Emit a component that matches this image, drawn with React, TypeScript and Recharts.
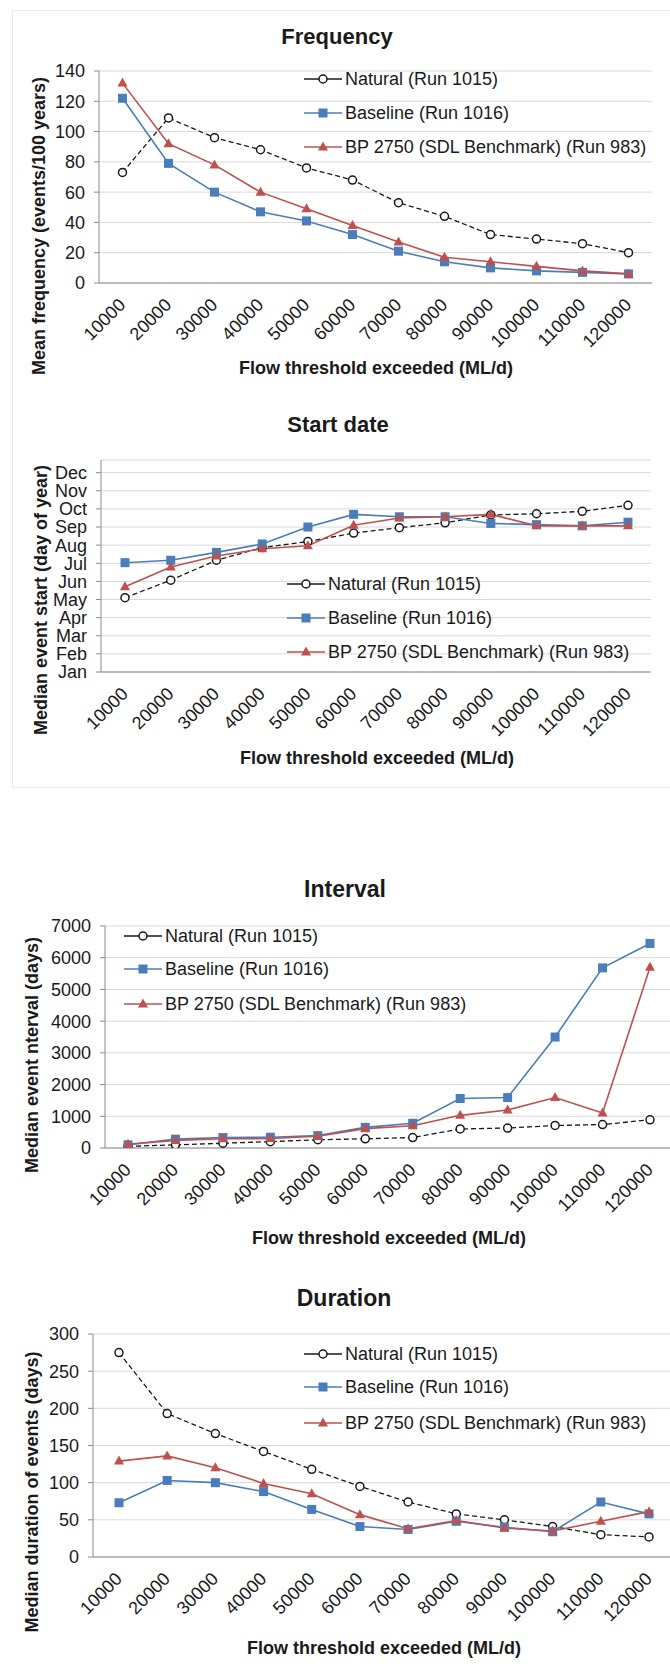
import React from "react";
import { LineChart, Line, XAxis, YAxis, CartesianGrid } from "recharts";

const FONT = '"Liberation Sans", Arial, sans-serif';
const BLACK = "#1a1a1a";
const BLUE = "#4a7ebb";
const RED = "#c0504d";
const AXIS = "#8c8c8c";
const GRID = "#d9d9d9";

const flows = ["10000", "20000", "30000", "40000", "50000", "60000", "70000", "80000", "90000", "100000", "110000", "120000"];

const seriesNames = ["Natural (Run 1015)", "Baseline (Run 1016)", "BP 2750 (SDL Benchmark) (Run 983)"];

// Frequency (events / 100 years)
const freqNatural = [73, 109, 96, 88, 76, 68, 53, 44, 32, 29, 26, 20];
const freqBaseline = [122, 79, 60, 47, 41, 32, 21, 14, 10, 8, 7, 6];
const freqBp = [132, 92, 78, 60, 49, 38, 27, 17, 14, 11, 8, 6];
const freqTicks = [0, 20, 40, 60, 80, 100, 120, 140];

// Start date (day of year)
const startNatural = [124, 153, 186, 207, 217, 231, 240, 248, 261, 263, 267, 277];
const startBaseline = [182, 186, 199, 213, 241, 262, 258, 258, 247, 245, 243, 249];
const startBp = [142, 175, 193, 205, 210, 244, 256, 258, 262, 243, 243, 243];
const monthTicks = [1, 31, 61, 91, 121, 151, 181, 211, 241, 271, 301, 331];
const monthLabels = ["Jan", "Feb", "Mar", "Apr", "May", "Jun", "Jul", "Aug", "Sep", "Oct", "Nov", "Dec"];

// Interval (days)
const intervalNatural = [50, 100, 150, 200, 260, 290, 330, 600, 630, 710, 740, 890];
const intervalBaseline = [100, 280, 330, 340, 390, 650, 780, 1560, 1590, 3500, 5680, 6450];
const intervalBp = [120, 240, 290, 300, 370, 610, 700, 1030, 1200, 1590, 1100, 5700];
const intervalTicks = [0, 1000, 2000, 3000, 4000, 5000, 6000, 7000];

// Duration (days)
const durationNatural = [275, 193, 166, 142, 118, 95, 74, 58, 50, 41, 30, 27];
const durationBaseline = [73, 103, 100, 88, 64, 41, 37, 48, 40, 34, 74, 58];
const durationBp = [129, 136, 120, 99, 85, 57, 38, 49, 39, 35, 48, 61];
const durationTicks = [0, 50, 100, 150, 200, 250, 300];

const toRows = (a: number[], b: number[], c: number[]) =>
    flows.map((flow, i) => ({ flow, natural: a[i], baseline: b[i], bp: c[i] }));

const CircleDot = (p: any) =>
    p.cx == null ? null : (
        <circle key={`n-${p.index}`} cx={p.cx} cy={p.cy} r={4} fill="#fff" stroke={BLACK} strokeWidth={1.5} />
    );
const SquareDot = (p: any) =>
    p.cx == null ? null : (
        <rect key={`b-${p.index}`} x={p.cx - 4.5} y={p.cy - 4.5} width={9} height={9} fill={BLUE} />
    );
const TriangleDot = (p: any) =>
    p.cx == null ? null : (
        <path key={`r-${p.index}`} d={`M${p.cx},${p.cy - 5.5}L${p.cx + 5},${p.cy + 3.5}L${p.cx - 5},${p.cy + 3.5}Z`} fill={RED} />
    );

const XTick = ({ x, y, payload }: any) => (
    <text
        transform={`translate(${x + 4},${y + 23}) rotate(-45)`}
        textAnchor="end"
        fontSize={18}
        fontFamily={FONT}
        fill={BLACK}
    >
        {payload.value}
    </text>
);

interface Geo {
    top: number;
    height: number;
    plotLeft: number;
    plotTop: number;
    plotBottom: number;
    right: number;
    padL: number;
    padR: number;
}

function Panel({ geo, data, domain, ticks, fmt }: { geo: Geo; data: any[]; domain: [number, number]; ticks: number[]; fmt?: (v: number) => string }) {
    const xAxisH = 60;
    return (
        <div style={{ position: "absolute", left: 0, top: geo.top }}>
            <LineChart
                width={670}
                height={geo.height}
                data={data}
                margin={{
                    top: geo.plotTop - geo.top,
                    right: geo.right,
                    left: 0,
                    bottom: geo.top + geo.height - geo.plotBottom - xAxisH,
                }}
            >
                <CartesianGrid vertical={false} stroke={GRID} />
                <XAxis
                    dataKey="flow"
                    scale="point"
                    padding={{ left: geo.padL, right: geo.padR }}
                    height={xAxisH}
                    interval={0}
                    tickLine={false}
                    tickSize={0}
                    tickMargin={0}
                    axisLine={{ stroke: AXIS }}
                    tick={(p: any) => <XTick {...p} />}
                />
                <YAxis
                    type="number"
                    width={geo.plotLeft}
                    domain={domain}
                    ticks={ticks}
                    interval={0}
                    allowDataOverflow
                    tickFormatter={fmt}
                    tickSize={5}
                    tickMargin={9}
                    axisLine={{ stroke: AXIS }}
                    tickLine={{ stroke: AXIS }}
                    tick={{ fontSize: 18, fill: BLACK, fontFamily: FONT }}
                />
                <Line dataKey="natural" stroke={BLACK} strokeWidth={1.3} strokeDasharray="5 3" dot={CircleDot} isAnimationActive={false} />
                <Line dataKey="baseline" stroke={BLUE} strokeWidth={1.6} dot={SquareDot} isAnimationActive={false} />
                <Line dataKey="bp" stroke={RED} strokeWidth={1.6} dot={TriangleDot} isAnimationActive={false} />
            </LineChart>
        </div>
    );
}

const Text = ({ x, y, size, bold, rotate, children }: any) => (
    <div
        style={{
            position: "absolute",
            left: x,
            top: y,
            transform: `translate(-50%, -50%)${rotate ? " rotate(-90deg)" : ""}`,
            fontSize: size,
            fontWeight: bold ? 700 : 400,
            whiteSpace: "nowrap",
            lineHeight: 1,
            color: BLACK,
        }}
    >
        {children}
    </div>
);

const LegendIcon = ({ kind }: { kind: number }) => (
    <svg width={38} height={20} style={{ display: "block" }}>
        {kind === 0 && (
            <>
                <line x1={0} y1={10} x2={38} y2={10} stroke={BLACK} strokeWidth={1.3} />
                <circle cx={19} cy={10} r={4} fill="#fff" stroke={BLACK} strokeWidth={1.5} />
            </>
        )}
        {kind === 1 && (
            <>
                <line x1={0} y1={10} x2={38} y2={10} stroke={BLUE} strokeWidth={1.6} />
                <rect x={14.5} y={5.5} width={9} height={9} fill={BLUE} />
            </>
        )}
        {kind === 2 && (
            <>
                <line x1={0} y1={10} x2={38} y2={10} stroke={RED} strokeWidth={1.6} />
                <path d="M19,4.5L24,13.5L14,13.5Z" fill={RED} />
            </>
        )}
    </svg>
);

const LegendBox = ({ x, rows }: { x: number; rows: number[] }) => (
    <>
        {seriesNames.map((name, i) => (
            <div
                key={name}
                style={{
                    position: "absolute",
                    left: x,
                    top: rows[i] - 10,
                    height: 20,
                    display: "flex",
                    alignItems: "center",
                    fontSize: 18,
                    color: BLACK,
                    whiteSpace: "nowrap",
                }}
            >
                <LegendIcon kind={i} />
                <span style={{ marginLeft: 3 }}>{name}</span>
            </div>
        ))}
    </>
);

const monthName = (v: number) => monthLabels[monthTicks.indexOf(v)] ?? "";

export default function App() {
    return (
        <div
            style={{
                position: "absolute",
                left: 0,
                top: 0,
                width: 670,
                height: 1673,
                background: "#fff",
                fontFamily: FONT,
                overflow: "hidden",
            }}
        >
            {/* faint chart-area frame around the two upper charts */}
            <div
                style={{
                    position: "absolute",
                    left: 12,
                    top: 10,
                    width: 700,
                    height: 778,
                    border: "1px solid #ececec",
                    boxSizing: "border-box",
                }}
            />
            <Panel
                geo={{ top: 0, height: 400, plotLeft: 99, plotTop: 71, plotBottom: 283, right: 18, padL: 23.5, padR: 23.5 }}
                data={toRows(freqNatural, freqBaseline, freqBp)}
                domain={[0, 140]}
                ticks={freqTicks}
            />
            <Panel
                geo={{ top: 400, height: 400, plotLeft: 101, plotTop: 460, plotBottom: 672, right: 19, padL: 24, padR: 23 }}
                data={toRows(startNatural, startBaseline, startBp)}
                domain={[1, 352]}
                ticks={monthTicks}
                fmt={monthName}
            />
            <Panel
                geo={{ top: 800, height: 450, plotLeft: 105, plotTop: 926, plotBottom: 1148, right: 0, padL: 23, padR: 20 }}
                data={toRows(intervalNatural, intervalBaseline, intervalBp)}
                domain={[0, 7000]}
                ticks={intervalTicks}
            />
            <Panel
                geo={{ top: 1250, height: 423, plotLeft: 93, plotTop: 1334, plotBottom: 1557, right: 0, padL: 26, padR: 21 }}
                data={toRows(durationNatural, durationBaseline, durationBp)}
                domain={[0, 300]}
                ticks={durationTicks}
            />

            <Text x={337} y={37} size={22} bold>Frequency</Text>
            <Text x={39} y={226} size={18} bold rotate>Mean frequency (events/100 years)</Text>
            <Text x={376} y={368} size={18} bold>Flow threshold exceeded (ML/d)</Text>
            <LegendBox x={304} rows={[79, 113, 147]} />

            <Text x={338} y={425} size={22} bold>Start date</Text>
            <Text x={41} y={600} size={18} bold rotate>Median event start (day of year)</Text>
            <Text x={377} y={758} size={18} bold>Flow threshold exceeded (ML/d)</Text>
            <LegendBox x={287} rows={[584, 618, 652]} />

            <Text x={345} y={889} size={23} bold>Interval</Text>
            <Text x={32} y={1055} size={18} bold rotate>Median event nterval (days)</Text>
            <Text x={389} y={1238} size={18} bold>Flow threshold exceeded (ML/d)</Text>
            <LegendBox x={124} rows={[936, 969, 1004]} />

            <Text x={344} y={1298} size={23} bold>Duration</Text>
            <Text x={32} y={1492} size={18} bold rotate>Median duration of events (days)</Text>
            <Text x={384} y={1648} size={18} bold>Flow threshold exceeded (ML/d)</Text>
            <LegendBox x={304} rows={[1354, 1387, 1423]} />
        </div>
    );
}
